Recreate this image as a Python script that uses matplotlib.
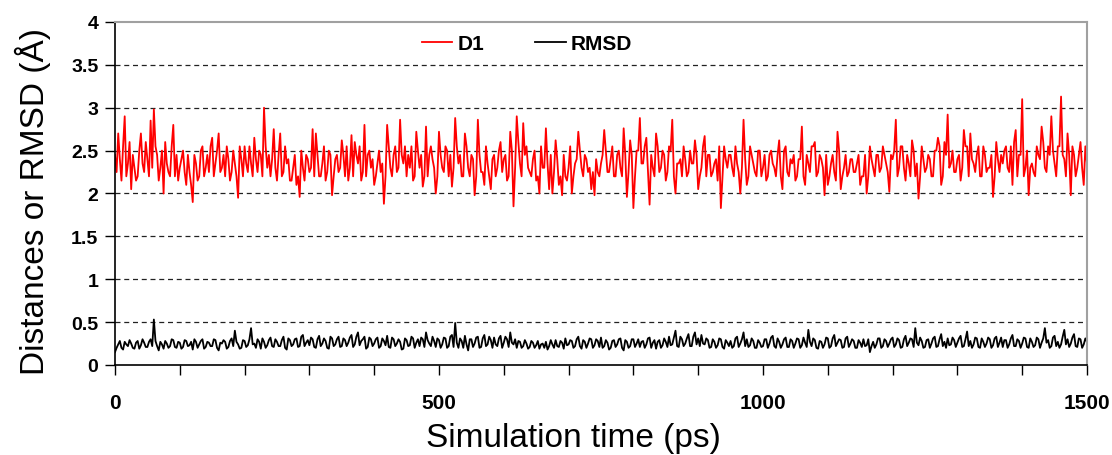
import numpy as np
import matplotlib
matplotlib.use("Agg")
import matplotlib.pyplot as plt
from matplotlib.ticker import MultipleLocator

plt.rcParams['font.family'] = ['Liberation Sans', 'DejaVu Sans']

time_step = 5  # ps, samples at 0, 5, 10, ...
# D1 read at 0, 5, 10, ... ps
d1 = [
    2.45, 2.70, 2.15, 2.90, 2.35, 2.05, 2.30, 2.20, 2.70, 2.25,
    2.40, 2.85, 2.98, 2.45, 2.30, 2.00, 2.35, 2.20, 2.80, 2.45,
    2.30, 2.50, 2.10, 2.25, 1.90, 2.35, 2.20, 2.55, 2.30, 2.25,
    2.65, 2.35, 2.70, 2.30, 2.20, 2.40, 2.25, 2.35, 1.95, 2.40,
    2.55, 2.25, 2.35, 2.65, 2.25, 2.45, 3.00, 2.30, 2.20, 2.75,
    2.15,
    2.70, 2.25, 2.35, 2.15, 2.30, 2.10, 1.96, 2.30, 2.45, 2.25,
    2.75, 2.70, 2.20, 2.35, 2.15, 2.50, 1.98, 2.40, 2.25, 2.62,
    2.20, 2.15, 2.68, 2.60, 2.35, 2.15, 2.80, 2.45, 2.30, 2.10,
    2.35, 2.25, 1.88, 2.80, 2.30, 2.45, 2.25, 2.86, 2.35, 2.20,
    2.30, 2.15, 2.72, 2.30, 2.08, 2.78, 2.45, 2.40, 2.00, 2.72,
    2.30, 2.55, 2.20, 2.08, 2.88, 2.35, 2.20, 2.70, 2.30, 2.45,
    1.98, 2.86, 2.25, 2.10, 2.35, 2.05, 2.45, 2.30, 2.60, 2.40,
    2.15, 2.72, 1.85, 2.90, 2.35, 2.82, 2.55, 2.25, 2.40, 2.15,
    2.00, 2.30, 2.76, 2.05, 2.00, 2.62, 2.10, 1.98, 2.20, 2.30,
    2.00, 2.35, 2.72, 2.30, 2.45, 2.25, 2.05, 1.98, 2.25, 2.35,
    2.74, 2.25,
    2.40, 2.20, 2.45, 2.30, 2.76, 1.96, 2.62, 1.83, 2.50, 2.88,
    2.35, 2.65, 1.87, 2.30, 2.70, 2.25, 2.50, 2.15, 2.55, 2.86,
    2.00, 2.35, 2.20, 2.40, 2.25, 2.35, 2.62, 2.05, 2.30, 2.67,
    2.45, 2.20, 2.35, 2.15, 1.83, 2.55, 2.30, 2.45, 2.20, 2.35,
    2.00, 2.86, 2.10, 2.55, 2.35, 2.20, 2.50, 2.30, 2.15, 2.45,
    2.35,
    2.20, 2.62, 2.05, 2.55, 2.20, 2.35, 2.15, 2.40, 2.78, 2.10,
    2.35, 2.55, 2.60, 2.25, 2.40, 1.98, 2.10, 2.35, 2.25, 2.72,
    2.05, 2.30, 2.20, 2.40, 2.25, 2.35, 2.10, 2.20, 2.00, 2.55,
    2.30, 2.45, 2.25, 2.55, 2.35, 2.02, 2.40, 2.86, 2.30, 2.55,
    2.15, 2.35, 2.62, 2.20, 1.94, 2.55, 2.25, 2.45, 2.20,
    2.50, 2.65, 2.10, 2.60, 2.92, 2.35, 2.25, 2.40, 2.15, 2.74,
    2.55, 2.70, 2.35, 2.45, 2.20, 2.55, 2.25, 2.30, 1.96, 2.60,
    2.25, 2.35, 2.55, 2.25, 2.10, 2.74, 2.45, 3.10, 2.30, 1.98,
    2.35, 2.20, 2.45, 2.78, 2.30, 2.55, 2.90, 2.35, 2.55, 3.13,
    2.40, 2.70, 1.98, 2.45, 2.30, 2.60, 2.10, 2.35,
]
# D1 read at 2.5, 7.5, 12.5, ... ps
d1_mid = [
    2.25, 2.40, 2.55, 2.20, 2.60, 2.45, 2.15, 2.50, 2.35, 2.60,
    2.20, 2.30, 2.55, 2.15, 2.50, 2.60, 2.25, 2.55, 2.20, 2.15,
    2.40, 2.25, 2.45, 2.10, 2.45, 2.15, 2.50, 2.20, 2.45, 2.55,
    2.20, 2.50, 2.25, 2.45, 2.55, 2.15, 2.50, 2.20, 2.55, 2.20,
    2.35, 2.55, 2.20, 2.40, 2.50, 2.20, 2.55, 2.45, 2.40, 2.30,
    2.45, 2.20, 2.55, 2.40, 2.15, 2.45, 2.20, 2.50, 2.15, 2.40,
    2.30, 2.20, 2.45, 2.20, 2.55, 2.25, 2.45, 2.20, 2.45, 2.30,
    2.45, 2.55, 2.30, 2.20, 2.45, 2.55, 2.25, 2.20, 2.50, 2.40,
    2.20, 2.50, 2.35, 2.20, 2.55, 2.20, 2.55, 2.30, 2.45, 2.55,
    2.45, 2.55, 2.20, 2.50, 2.45, 2.20, 2.20, 2.55, 2.30, 2.20,
    2.45, 2.25, 2.50, 2.45, 2.30, 2.55, 2.45, 2.20, 2.55, 2.20,
    2.40, 2.20, 2.45, 2.25, 2.55, 2.20, 2.40, 2.20, 2.50, 2.25,
    2.45, 2.20, 2.50, 2.30, 2.60, 2.20, 2.45, 2.30, 2.20, 2.50,
    2.20, 2.55, 2.30, 2.35, 2.45, 2.25, 2.40, 2.20, 2.45, 2.15,
    2.55, 2.20, 2.40, 2.50, 2.20, 2.40, 2.30, 2.25, 2.40, 2.20,
    2.45, 2.50, 2.25, 2.55, 2.20, 2.50, 2.20, 2.45, 2.25, 2.45,
    2.20, 2.50, 2.35, 2.55, 2.25, 2.45, 2.20, 2.55, 2.30, 2.45,
    2.25, 2.50, 2.20, 2.35, 2.40, 2.55, 2.20, 2.50, 2.35, 2.45,
    2.20, 2.55, 2.20, 2.45, 2.25, 2.40, 2.55, 2.20, 2.40, 2.45,
    2.30, 2.55, 2.25, 2.30, 2.40, 2.20, 2.45, 2.25, 2.50, 2.20,
    2.45, 2.20, 2.50, 2.30, 2.45, 2.20, 2.50, 2.25, 2.40, 2.45,
    2.20, 2.40, 2.20, 2.45, 2.25, 2.55, 2.20, 2.45, 2.30, 2.45,
    2.20, 2.45, 2.15, 2.50, 2.20, 2.45, 2.25, 2.40, 2.25, 2.45,
    2.20, 2.45, 2.20, 2.40, 2.20, 2.45, 2.30, 2.45, 2.25, 2.45,
    2.50, 2.20, 2.55, 2.30, 2.45, 2.20, 2.50, 2.35, 2.20, 2.40,
    2.30, 2.40, 2.20, 2.50, 2.55, 2.20, 2.45, 2.30, 2.50, 2.25,
    2.45, 2.30, 2.55, 2.20, 2.40, 2.25, 2.55, 2.20, 2.45, 2.30,
    2.45, 2.20, 2.40, 2.45, 2.50, 2.30, 2.55, 2.60, 2.20, 2.45,
    2.20, 2.50, 2.30, 2.25, 2.55, 2.40, 2.60, 2.25, 2.45, 2.50,
    2.20, 2.55, 2.45, 2.20, 2.45, 2.55, 2.20, 2.45, 2.30, 2.55,
]
# RMSD read at 0, 5, 10, ... ps
rmsd = [
    0.15, 0.24, 0.20, 0.27, 0.22, 0.25, 0.19, 0.28, 0.23, 0.26,
    0.21, 0.30, 0.53, 0.22, 0.27, 0.19, 0.25, 0.22, 0.29, 0.20,
    0.26, 0.21, 0.28, 0.23, 0.18, 0.27, 0.24, 0.30, 0.21, 0.26,
    0.22, 0.29, 0.17, 0.25, 0.27, 0.21, 0.31, 0.40, 0.24, 0.20,
    0.28, 0.23, 0.43, 0.25, 0.30, 0.19, 0.27, 0.23, 0.32, 0.21,
    0.27, 0.22, 0.33, 0.18, 0.29, 0.24, 0.31, 0.22, 0.35, 0.26,
    0.23, 0.30, 0.20, 0.34, 0.25, 0.28, 0.19, 0.31, 0.24, 0.33,
    0.22, 0.29, 0.26, 0.35, 0.24, 0.38, 0.28, 0.33, 0.21, 0.30,
    0.25, 0.32, 0.22, 0.28, 0.34, 0.20, 0.30, 0.25, 0.27, 0.19,
    0.29, 0.23, 0.31, 0.26, 0.22, 0.30, 0.38, 0.25, 0.33, 0.21,
    0.29, 0.24, 0.31, 0.22, 0.35, 0.49, 0.20, 0.28, 0.34, 0.17,
    0.30, 0.25, 0.33, 0.21, 0.35, 0.24, 0.29, 0.32, 0.22, 0.34,
    0.26, 0.30, 0.38, 0.24, 0.20, 0.27, 0.22, 0.25, 0.21, 0.26,
    0.23, 0.19, 0.25, 0.27, 0.22, 0.24, 0.29, 0.21, 0.26, 0.31,
    0.24, 0.28, 0.22, 0.33, 0.19, 0.27, 0.25, 0.30, 0.23, 0.28,
    0.32, 0.22, 0.26, 0.20, 0.29, 0.24, 0.31, 0.17, 0.27, 0.22,
    0.30, 0.25, 0.21, 0.28, 0.24, 0.32, 0.26, 0.19, 0.29, 0.23,
    0.27, 0.33, 0.24, 0.40, 0.21, 0.30, 0.25, 0.36, 0.22, 0.38,
    0.31, 0.35, 0.24, 0.29, 0.21, 0.27, 0.23, 0.30, 0.19, 0.26,
    0.28, 0.22, 0.33, 0.25, 0.38, 0.30, 0.23, 0.28, 0.20, 0.26,
    0.22, 0.30, 0.25, 0.34, 0.20, 0.27, 0.24, 0.32, 0.21, 0.28,
    0.25, 0.30, 0.23, 0.26, 0.41, 0.22, 0.29, 0.19, 0.27, 0.24,
    0.31, 0.22, 0.35, 0.26, 0.29, 0.21, 0.33, 0.25, 0.28, 0.20,
    0.26, 0.30, 0.23, 0.15, 0.27, 0.24, 0.31, 0.22, 0.28, 0.25,
    0.32, 0.24, 0.29, 0.21, 0.34, 0.26, 0.30, 0.43, 0.23, 0.28,
    0.21, 0.30, 0.25, 0.33, 0.22, 0.36, 0.27, 0.31, 0.24, 0.29,
    0.26, 0.34, 0.22, 0.39, 0.28, 0.24, 0.31, 0.20, 0.27, 0.25,
    0.30, 0.23, 0.33, 0.26, 0.21, 0.29, 0.24, 0.35, 0.22, 0.28,
    0.25, 0.31, 0.20, 0.27, 0.23, 0.30, 0.26, 0.43, 0.29, 0.22,
    0.34, 0.27, 0.24, 0.41, 0.30, 0.25, 0.36, 0.21, 0.30, 0.24,
    0.27,
]
# RMSD read at 2.5, 7.5, 12.5, ... ps
rmsd_mid = [
    0.20, 0.28, 0.18, 0.24, 0.29, 0.20, 0.26, 0.19, 0.30, 0.21,
    0.27, 0.22, 0.28, 0.17, 0.24, 0.28, 0.20, 0.30, 0.21, 0.27,
    0.19, 0.29, 0.22, 0.27, 0.30, 0.20, 0.28, 0.19, 0.27, 0.22,
    0.30, 0.20, 0.26, 0.29, 0.19, 0.28, 0.22, 0.27, 0.19, 0.29,
    0.21, 0.30, 0.24, 0.20, 0.27, 0.31, 0.20, 0.29, 0.22, 0.30,
    0.22, 0.29, 0.20, 0.31, 0.22, 0.30, 0.21, 0.33, 0.22, 0.29,
    0.32, 0.21, 0.30, 0.22, 0.31, 0.20, 0.33, 0.22, 0.30, 0.21,
    0.31, 0.22, 0.32, 0.21, 0.33, 0.23, 0.30, 0.19, 0.32, 0.22,
    0.30, 0.20, 0.31, 0.23, 0.21, 0.32, 0.22, 0.30, 0.18, 0.31,
    0.22, 0.33, 0.20, 0.30, 0.32, 0.21, 0.29, 0.22, 0.28, 0.31,
    0.20, 0.32, 0.20, 0.33, 0.21, 0.26, 0.31, 0.20, 0.24, 0.30,
    0.21, 0.32, 0.20, 0.31, 0.22, 0.33, 0.20, 0.24, 0.31, 0.20,
    0.33, 0.21, 0.26, 0.30, 0.28, 0.20, 0.29, 0.19, 0.28, 0.20,
    0.28, 0.24, 0.20, 0.18, 0.29, 0.20, 0.22, 0.28, 0.19, 0.23,
    0.29, 0.20, 0.30, 0.22, 0.29, 0.20, 0.31, 0.20, 0.30, 0.21,
    0.20, 0.29, 0.18, 0.28, 0.21, 0.30, 0.20, 0.29, 0.20, 0.30,
    0.21, 0.30, 0.27, 0.20, 0.31, 0.20, 0.29, 0.27, 0.20, 0.31,
    0.21, 0.23, 0.32, 0.22, 0.33, 0.22, 0.31, 0.22, 0.33, 0.24,
    0.22, 0.25, 0.31, 0.20, 0.30, 0.20, 0.31, 0.21, 0.29, 0.22,
    0.20, 0.31, 0.21, 0.30, 0.22, 0.21, 0.31, 0.20, 0.29, 0.21,
    0.30, 0.20, 0.32, 0.22, 0.31, 0.20, 0.30, 0.21, 0.30, 0.20,
    0.31, 0.20, 0.32, 0.21, 0.27, 0.31, 0.20, 0.28, 0.20, 0.32,
    0.20, 0.31, 0.22, 0.30, 0.20, 0.31, 0.21, 0.30, 0.20, 0.29,
    0.21, 0.22, 0.30, 0.22, 0.20, 0.31, 0.20, 0.30, 0.21, 0.30,
    0.21, 0.31, 0.20, 0.30, 0.22, 0.31, 0.21, 0.26, 0.32, 0.20,
    0.29, 0.20, 0.31, 0.21, 0.30, 0.22, 0.20, 0.23, 0.32, 0.21,
    0.31, 0.21, 0.30, 0.22, 0.20, 0.32, 0.21, 0.31, 0.21, 0.32,
    0.20, 0.31, 0.21, 0.32, 0.29, 0.20, 0.31, 0.22, 0.30, 0.20,
    0.32, 0.21, 0.31, 0.21, 0.32, 0.20, 0.31, 0.26, 0.20, 0.32,
    0.22, 0.20, 0.33, 0.24, 0.21, 0.32, 0.22, 0.31, 0.20, 0.31,
]

series_labels = ["D1", "RMSD"]
x_label = "Simulation time (ps)"
y_label = "Distances or RMSD (Å)"


def merge(main, mid):
    t_main = np.arange(len(main)) * time_step
    t_mid = np.arange(len(mid)) * time_step + time_step / 2
    t = np.concatenate([t_main, t_mid])
    v = np.concatenate([np.asarray(main, float), np.asarray(mid, float)])
    order = np.argsort(t, kind="stable")
    return t[order], v[order]


t_d1, v_d1 = merge(d1, d1_mid)
t_rm, v_rm = merge(rmsd, rmsd_mid)

fig = plt.figure(figsize=(11.12, 4.56), dpi=100)
ax = fig.add_axes([0.1034, 0.1974, 0.8741, 0.7522])

ax.plot(t_d1, v_d1, color="#ff0000", lw=1.3, label=series_labels[0])
ax.plot(t_rm, v_rm, color="#000000", lw=1.3, label=series_labels[1])

ax.set_xlim(0, 1500)
ax.set_ylim(0, 4)
ax.xaxis.set_major_locator(MultipleLocator(500))
ax.xaxis.set_minor_locator(MultipleLocator(100))
ax.set_yticks(np.arange(0, 4.01, 0.5))
ax.set_yticklabels([("%g" % v) for v in np.arange(0, 4.01, 0.5)])

for yv in np.arange(0.5, 3.51, 0.5):
    ax.axhline(yv, color="#222222", lw=0.9, ls=(0, (4, 3)), zorder=0)

ax.tick_params(axis="x", which="both", direction="out", length=7, width=1, pad=13,
               labelsize=15)
ax.tick_params(axis="y", which="major", direction="out", length=7, width=1, pad=5,
               labelsize=14)
for lab in ax.get_xticklabels() + ax.get_yticklabels():
    lab.set_fontweight("bold")

for s in ["left", "bottom"]:
    ax.spines[s].set_color("black")
    ax.spines[s].set_linewidth(1.2)
for s in ["top", "right"]:
    ax.spines[s].set_color("#a0a0a0")
    ax.spines[s].set_linewidth(1.5)

ax.set_xlabel(x_label, fontsize=24)
ax.xaxis.set_label_coords(0.472, -0.165)
ax.set_ylabel(y_label, fontsize=24)
ax.yaxis.set_label_coords(-0.066, 0.48)

leg = ax.legend(loc="center", bbox_to_anchor=(0.424, 0.936), ncol=2, frameon=False,
                handlelength=1.45, handletextpad=0.25, columnspacing=2.45,
                prop={"weight": "bold", "size": 15})

fig.savefig("out.png", dpi=100)
